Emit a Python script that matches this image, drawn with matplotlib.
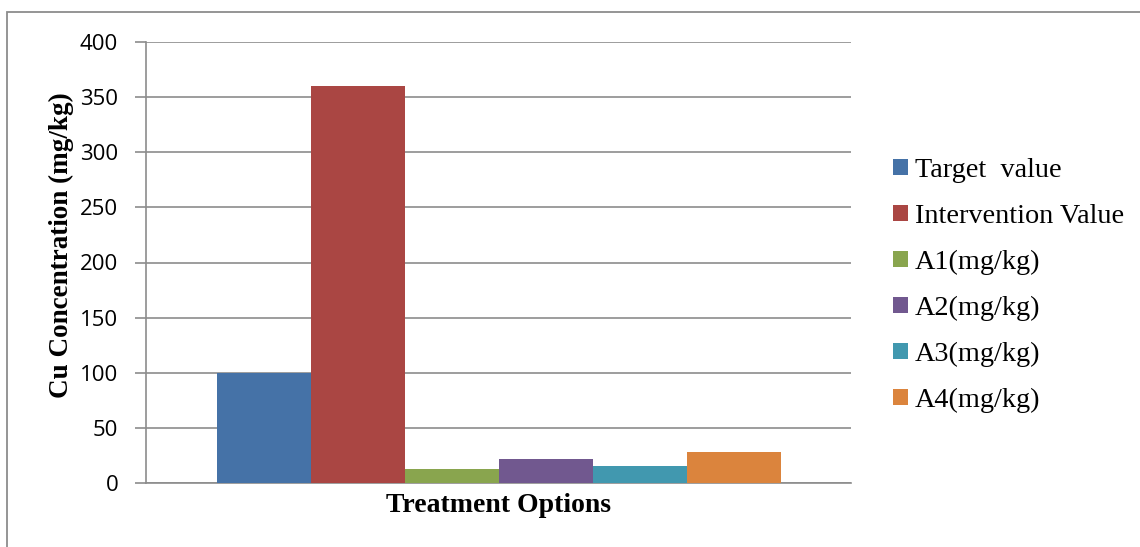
import matplotlib
matplotlib.use("Agg")
import matplotlib.pyplot as plt
from matplotlib.patches import Rectangle
import numpy as np

# Data
categories = ["Treatment Options"]
series_names = ["Target  value", "Intervention Value", "A1(mg/kg)",
                "A2(mg/kg)", "A3(mg/kg)", "A4(mg/kg)"]
series_values = [100, 360, 13, 22, 15, 28]
series_colors = ["#4572A7", "#AA4643", "#89A54E", "#71588F", "#4198AF", "#DB843D"]
y_ticks = [0, 50, 100, 150, 200, 250, 300, 350, 400]

W, H = 1140, 547
fig = plt.figure(figsize=(W / 100, H / 100), dpi=100)

# Outer chart border
fig.patches.append(Rectangle((7 / W, -0.05), 1.1, 1 - 12 / H + 0.05,
                             transform=fig.transFigure, fill=False,
                             edgecolor="#8c8c8c", linewidth=1.3))

ax = fig.add_axes([146 / W, 1 - 483 / H, (851 - 146) / W, (483 - 42) / H])

n = len(series_values)
group_width = 0.8
bw = group_width / n
for i, (name, val, col) in enumerate(zip(series_names, series_values, series_colors)):
    x = -group_width / 2 + bw * (i + 0.5)
    ax.bar(x, val, width=bw, color=col, label=name, zorder=3, linewidth=0)

ax.set_xlim(-0.5, 0.5)
ax.set_ylim(0, 400)
ax.set_yticks(y_ticks)
ax.set_yticklabels([str(t) for t in y_ticks], fontfamily="Open Sans", fontsize=16)
ax.set_xticks([])

ax.yaxis.grid(True, color="#8c8c8c", linewidth=1.2, zorder=0)
ax.set_axisbelow(True)
for s in ["top", "right"]:
    ax.spines[s].set_visible(False)
ax.spines["left"].set_color("#8c8c8c")
ax.spines["left"].set_linewidth(1.2)
ax.spines["bottom"].set_color("#8c8c8c")
ax.spines["bottom"].set_linewidth(1.2)
ax.tick_params(axis="y", length=8, width=1.2, color="#8c8c8c", pad=12)

ax.set_ylabel("Cu Concentration (mg/kg)", fontfamily="Liberation Serif",
              fontweight="bold", fontsize=19.5)
ax.yaxis.set_label_coords((74 - 146) / 705, (483 - 245) / 441)
ax.set_xlabel(categories[0], fontfamily="Liberation Serif",
              fontweight="bold", fontsize=20, labelpad=7)

leg = ax.legend(loc="upper left", bbox_to_anchor=(893 / W, 1 - 158 / H),
                bbox_transform=fig.transFigure, frameon=False,
                prop={"family": "Liberation Serif", "size": 20.3},
                handlelength=0.53, handleheight=0.53, handletextpad=0.25,
                labelspacing=0.74, borderpad=0, borderaxespad=0)

fig.savefig("out.png", dpi=100)
